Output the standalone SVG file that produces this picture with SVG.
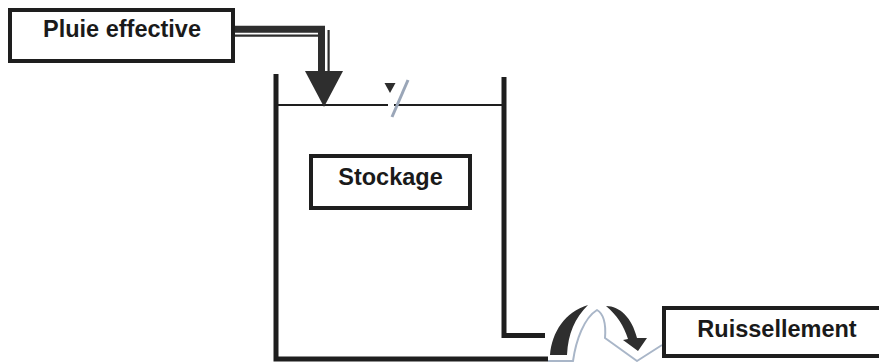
<svg xmlns="http://www.w3.org/2000/svg" width="879" height="364" viewBox="0 0 879 364">
<style>
.box{fill:#fff;stroke:#1e1e1e;stroke-width:4}
.lbl{font-family:"Liberation Sans",Arial,sans-serif;font-weight:bold;font-size:23.5px;fill:#1a1a1a;text-anchor:middle}
.wall{fill:none;stroke:#1e1e1e;stroke-width:5;stroke-linejoin:miter}
.thin{fill:none;stroke:#1e1e1e;stroke-width:2}
.ghost{fill:none;stroke:#a9b6c8;stroke-width:2;stroke-linejoin:round}
.dark{fill:#2e2e2e;stroke:none}
</style>
<rect width="879" height="364" fill="#fff"/>
<g id="tank">
<path class="wall" d="M276,74 V359 H548"/>
<path class="wall" d="M504,77 V335.5 H545"/>
<line class="thin" x1="278" y1="105" x2="388" y2="105"/>
<line class="thin" x1="394" y1="105" x2="503" y2="105"/>
<polygon class="dark" points="384.5,83 395.5,83 390,93"/>
<line x1="408" y1="80" x2="392" y2="117" stroke="#9aa6b8" stroke-width="3"/>
</g>
<g id="connectors">
<path d="M233,29.3 H321.5 V72" fill="none" stroke="#2e2e2e" stroke-width="7"/>
<line x1="233" y1="35.6" x2="318" y2="35.6" stroke="#2e2e2e" stroke-width="2.2"/>
<line x1="328.6" y1="30" x2="328.6" y2="72" stroke="#2e2e2e" stroke-width="2.2"/>
<polygon class="dark" points="305,71 343,71 324,107"/>
<path class="ghost" d="M548,361 L573,361 C576,340 584,318 597,310 C604,314 606,325 605,338 L637,361 L662,345"/>
<path class="dark" d="M550,355 C552,332 565,312 588,305 C575,318 568,333 567,355 Z"/>
<path class="dark" d="M606,306 C620,306 632,318 637,338 L647,338 L638,351 L623,340 L628,339 C624,326 617,315 606,306 Z"/>
</g>
<g id="pluie">
<rect class="box" x="10" y="10" width="223" height="51"/>
<text class="lbl" x="122" y="37">Pluie effective</text>
</g>
<g id="stockage">
<rect class="box" x="311" y="156" width="159" height="52"/>
<text class="lbl" x="390.5" y="185">Stockage</text>
</g>
<g id="ruissellement">
<rect class="box" x="664" y="308" width="220" height="48"/>
<text class="lbl" x="777" y="337">Ruissellement</text>
</g>
</svg>
